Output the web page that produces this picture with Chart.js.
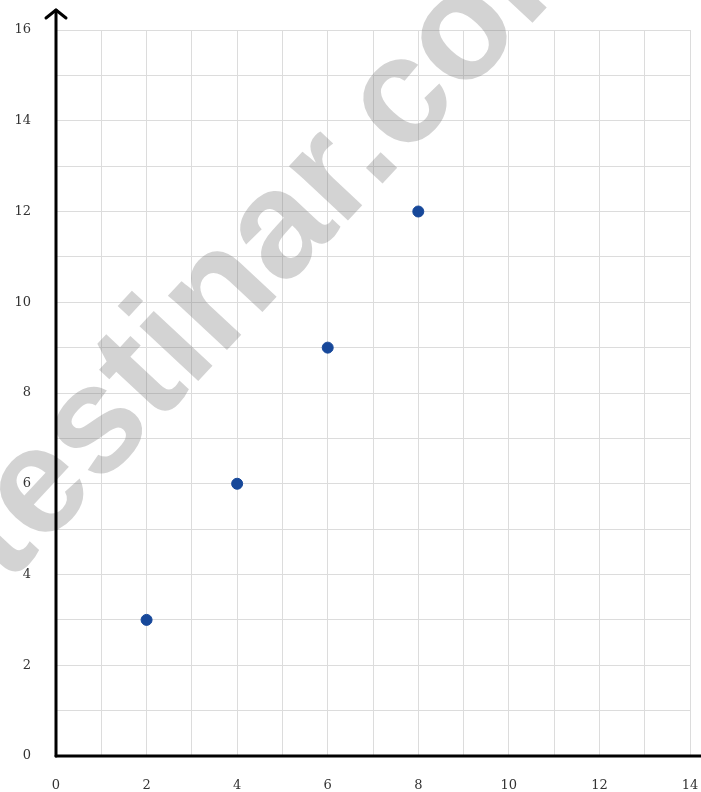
<!DOCTYPE html>
<html>
<head>
<meta charset="utf-8">
<script src="https://cdn.jsdelivr.net/npm/chart.js@4.4.1/dist/chart.umd.min.js"></script>
<style>
  html, body { margin: 0; padding: 0; background: #fff; }
  #wrap { width: 701px; height: 792px; }
</style>
</head>
<body>
<div id="wrap"><canvas id="c" width="701" height="792"></canvas></div>
<script>
const xValues = [2, 4, 6, 8];
const yValues = [3, 6, 9, 12];
const xRange = [0, 14];
const yRange = [0, 16];
const labelStep = 2;
const watermarkText = 'testinar.com';

const points = xValues.map((x, i) => ({ x: x, y: yValues[i] }));

const watermarkPlugin = {
  id: 'watermark',
  beforeDatasetsDraw(chart) {
    const ctx = chart.ctx;
    ctx.save();
    ctx.translate(312, 259);
    ctx.rotate(-47 * Math.PI / 180);
    ctx.font = 'bold 152px "Liberation Sans", Arial, sans-serif';
    ctx.fillStyle = 'rgba(120,120,120,0.33)';
    ctx.textAlign = 'center';
    ctx.textBaseline = 'alphabetic';
    ctx.fillText(watermarkText, 0, 0);
    ctx.restore();
  }
};

const axesPlugin = {
  id: 'axesArrows',
  afterDraw(chart) {
    const ctx = chart.ctx;
    const xs = chart.scales.x, ys = chart.scales.y;
    const x0 = xs.getPixelForValue(xRange[0]);
    const y0 = ys.getPixelForValue(yRange[0]);
    const top = 10;
    ctx.save();
    ctx.strokeStyle = '#000';
    ctx.lineWidth = 3;
    ctx.lineCap = 'round';
    ctx.lineJoin = 'round';
    ctx.beginPath();
    ctx.moveTo(x0, y0);
    ctx.lineTo(chart.width, y0);
    ctx.stroke();
    ctx.beginPath();
    ctx.moveTo(x0, y0);
    ctx.lineTo(x0, top);
    ctx.stroke();
    ctx.beginPath();
    ctx.moveTo(x0 - 10, top + 8);
    ctx.lineTo(x0, top);
    ctx.lineTo(x0 + 10, top + 8);
    ctx.stroke();
    ctx.restore();
  }
};

const tickFont = { family: '"DejaVu Serif", serif', size: 13 };

new Chart(document.getElementById('c'), {
  type: 'scatter',
  data: {
    datasets: [{
      data: points,
      backgroundColor: '#17489a',
      borderColor: '#17489a',
      pointRadius: 5.5,
      pointHoverRadius: 5.5
    }]
  },
  options: {
    responsive: false,
    animation: false,
    layout: { padding: { top: 30, right: 11, left: 0, bottom: 0 } },
    plugins: { legend: { display: false }, tooltip: { enabled: false } },
    scales: {
      x: {
        type: 'linear',
        min: xRange[0], max: xRange[1],
        grid: { color: '#dcdcdc', lineWidth: 1, drawTicks: false },
        border: { display: false },
        ticks: {
          stepSize: 1, autoSkip: false, maxRotation: 0,
          padding: 22, color: '#333', font: tickFont,
          callback: v => (v % labelStep === 0 ? v : '')
        },
        afterFit: s => { s.height = 36; s.paddingLeft = 0; s.paddingRight = 0; }
      },
      y: {
        type: 'linear',
        min: yRange[0], max: yRange[1],
        grid: { color: '#dcdcdc', lineWidth: 1, drawTicks: false },
        border: { display: false },
        ticks: {
          stepSize: 1, autoSkip: false,
          padding: 25, color: '#333', font: tickFont,
          callback: v => (v % labelStep === 0 ? v : '')
        },
        afterFit: s => { s.width = 56; s.paddingTop = 0; s.paddingBottom = 0; }
      }
    }
  },
  plugins: [watermarkPlugin, axesPlugin]
});
</script>
</body>
</html>
